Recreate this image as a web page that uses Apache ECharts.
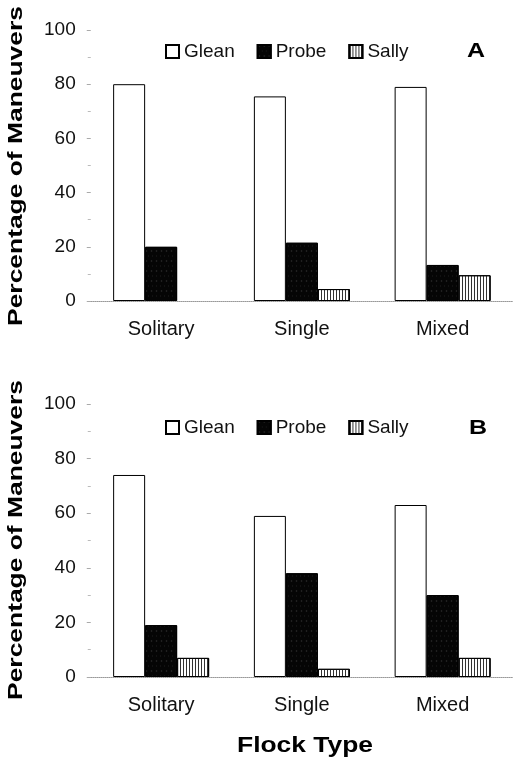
<!DOCTYPE html>
<html><head><meta charset="utf-8">
<script src="https://cdn.jsdelivr.net/npm/echarts@6/dist/echarts.min.js"></script>
<style>html,body{margin:0;padding:0;background:#fff}#c{width:513px;height:762px}</style>
</head><body><div id="c"></div>
<script>
const categories = ['Solitary', 'Single', 'Mixed'];
const seriesNames = ['Glean', 'Probe', 'Sally'];
const yTicks = [0, 20, 40, 60, 80, 100];
// Panel A
const gleanA = [80, 75.5, 79];
const probeA = [20, 21.5, 13.3];
const sallyA = [0, 4.4, 9.5];
// Panel B
const gleanB = [74, 59, 63];
const probeB = [19, 38, 30];
const sallyB = [7, 3, 7];

const FONT = 'Liberation Sans';
const chart = echarts.init(document.getElementById('c'), null, {renderer: 'canvas'});

const styles = {
  Glean: {color: '#ffffff', borderColor: '#000', borderWidth: 1},
  Probe: {color: '#050505', borderColor: '#000', borderWidth: 1,
          decal: {symbol: 'rect', color: 'rgba(140,140,140,0.45)', symbolSize: 0.45,
                  dashArrayX: [[1, 3], [3, 2]], dashArrayY: [2, 3], rotation: 0}},
  Sally: {color: '#ffffff', borderColor: '#000', borderWidth: 1,
          decal: {symbol: 'rect', color: '#333', symbolSize: 1,
                  dashArrayX: [1, 1.2], dashArrayY: [6, 0], rotation: 0}}
};

function yAxis(gi) {
  return {
    gridIndex: gi, type: 'value', min: 0, max: 100, interval: 20,
    axisLine: {show: false},
    axisTick: {show: true, length: 4, lineStyle: {color: '#aaa'}},
    minorTick: {show: true, splitNumber: 2, length: 3, lineStyle: {color: '#bbb'}},
    splitLine: {show: false},
    axisLabel: {fontFamily: FONT, fontSize: 19, color: '#111', margin: 15,
      formatter: v => yTicks.includes(v) ? String(v) : ''}
  };
}
function xAxis(gi) {
  return {
    gridIndex: gi, type: 'category', data: categories,
    axisLine: {show: true, lineStyle: {color: '#999', type: 'dotted', width: 1}},
    axisTick: {show: false},
    axisLabel: {fontFamily: FONT, fontSize: 20, color: '#111', margin: 18}
  };
}
function bar(name, data, gi) {
  // zero-height bars draw no outline
  const items = data.map(v => v === 0 ? {value: v, itemStyle: {borderWidth: 0}} : v);
  return {name, type: 'bar', xAxisIndex: gi, yAxisIndex: gi, data: items,
    barWidth: 32, barGap: '0%', itemStyle: styles[name], emphasis: {disabled: true},
    animation: false};
}
function legend(top) {
  return {data: seriesNames, top, left: 160, icon: 'rect', itemWidth: 13, itemHeight: 13,
    itemGap: 22, textStyle: {fontFamily: FONT, fontSize: 19, color: '#111'}, selectedMode: false};
}
function titleText(text, x, y, rot, size, scale) {
  return {type: 'text', x, y, rotation: rot, scaleX: scale, silent: true,
    style: {text, font: 'bold ' + size + 'px "' + FONT + '"', fill: '#000',
      align: 'center', verticalAlign: 'middle'}};
}

chart.setOption({
  animation: false,
  legend: [legend(37), legend(413)],
  grid: [
    {left: 90.75, right: -5, top: 30, height: 271},
    {left: 90.75, right: -5, top: 404, height: 273}
  ],
  xAxis: [xAxis(0), xAxis(1)],
  yAxis: [yAxis(0), yAxis(1)],
  graphic: [
    titleText('Percentage of Maneuvers', 16, 166, Math.PI / 2, 20, 1.32),
    titleText('Percentage of Maneuvers', 16, 540, Math.PI / 2, 20, 1.32),
    titleText('Flock Type', 305, 746, 0, 22, 1.2),
    titleText('A', 476, 51, 0, 20, 1.25),
    titleText('B', 478, 428, 0, 20, 1.25)
  ],
  series: [
    bar('Glean', gleanA, 0), bar('Probe', probeA, 0), bar('Sally', sallyA, 0),
    bar('Glean', gleanB, 1), bar('Probe', probeB, 1), bar('Sally', sallyB, 1)
  ]
});
</script></body></html>
